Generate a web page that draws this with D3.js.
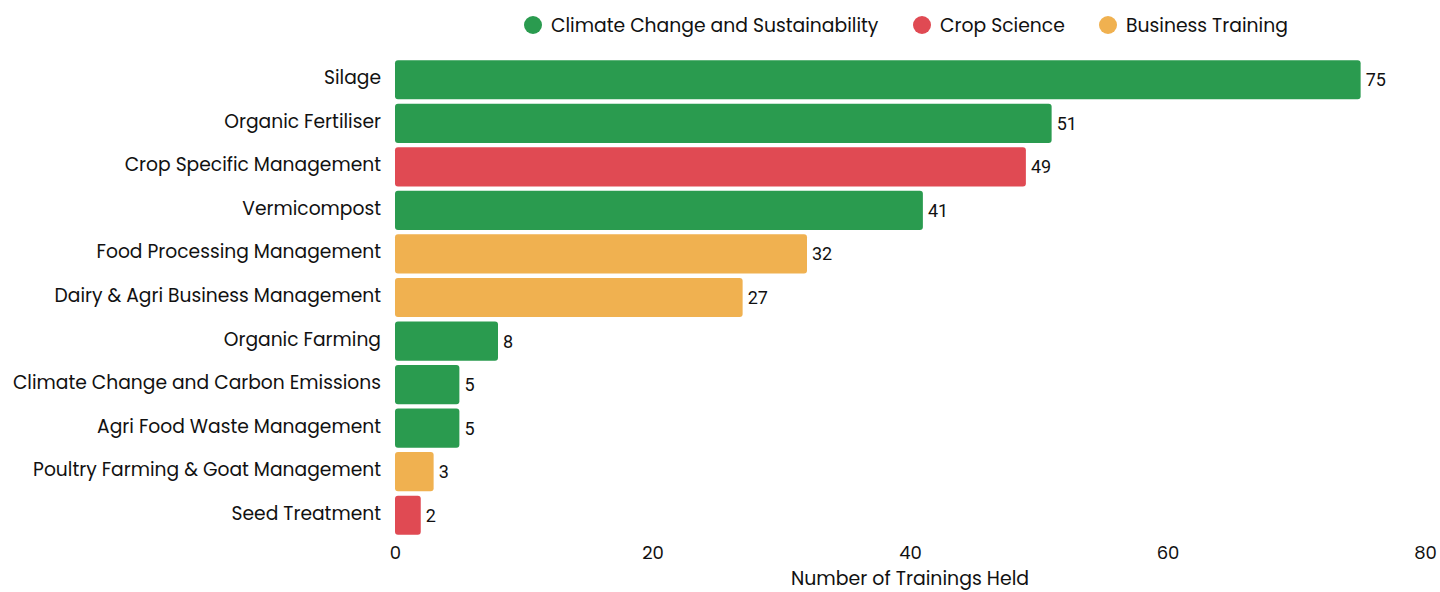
<!DOCTYPE html>
<html><head><meta charset="utf-8">
<script src="https://cdn.jsdelivr.net/npm/d3@7"></script>
<style>body{margin:0;background:#fff}svg{display:block}</style>
</head><body><svg id="c" width="1440" height="592"></svg>
<script>
const categories = ["Silage","Organic Fertiliser","Crop Specific Management","Vermicompost","Food Processing Management","Dairy & Agri Business Management","Organic Farming","Climate Change and Carbon Emissions","Agri Food Waste Management","Poultry Farming & Goat Management","Seed Treatment"];
const values = [75,51,49,41,32,27,8,5,5,3,2];
const groups = ["Climate Change and Sustainability","Climate Change and Sustainability","Crop Science","Climate Change and Sustainability","Business Training","Business Training","Climate Change and Sustainability","Climate Change and Sustainability","Climate Change and Sustainability","Business Training","Crop Science"];
const legendNames = ["Climate Change and Sustainability","Crop Science","Business Training"];
const legendColors = ["#2a9b4f","#e04a53","#f0b150"];
const xTicks = [0,20,40,60,80];

const font = "Poppins, 'Open Sans', sans-serif";
const svg = d3.select("#c");
const x = d3.scaleLinear().domain([0,80]).range([395,1425]);
const y = d3.scaleBand().domain(categories).range([58,537]).paddingInner(0.1).paddingOuter(0.05);
const color = d3.scaleOrdinal().domain(legendNames).range(legendColors);

const data = categories.map((c,i)=>({c, v:values[i], g:groups[i]}));

svg.selectAll("rect.bar").data(data).join("rect").attr("class","bar")
  .attr("x",x(0)).attr("y",d=>y(d.c)).attr("width",d=>x(d.v)-x(0)).attr("height",y.bandwidth())
  .attr("rx",3).attr("fill",d=>color(d.g));

svg.selectAll("text.val").data(data).join("text").attr("class","val")
  .attr("x",d=>x(d.v)+5).attr("y",d=>y(d.c)+y.bandwidth()/2).attr("dy","0.36em")
  .attr("font-family","Roboto, sans-serif").attr("font-size",18).attr("fill","#111").text(d=>d.v);

const yAxis = d3.axisLeft(y).tickSize(0).tickPadding(14);
const gy = svg.append("g").attr("transform",`translate(${x(0)},0)`).call(yAxis);
gy.select(".domain").remove();
gy.selectAll("text").attr("font-family",font).attr("font-size",18.7).attr("fill","#111").attr("dy","0.24em");

const xAxis = d3.axisBottom(x).tickValues(xTicks).tickSize(0).tickPadding(9);
const gx = svg.append("g").attr("transform",`translate(0,${537})`).call(xAxis);
gx.select(".domain").remove();
gx.selectAll("text").attr("font-family",font).attr("font-size",18).attr("fill","#111");

svg.append("text").attr("x",910).attr("y",585).attr("text-anchor","middle")
  .attr("font-family",font).attr("font-size",18.9).attr("fill","#111").text("Number of Trainings Held");

const legX = [533,922,1108];
const lg = svg.selectAll("g.leg").data(legendNames).join("g").attr("class","leg")
  .attr("transform",(d,i)=>`translate(${legX[i]},25)`);
lg.append("circle").attr("r",9).attr("fill",d=>color(d));
lg.append("text").attr("x",18).attr("dy","0.35em").attr("font-family",font).attr("font-size",18.75).attr("fill","#111").text(d=>d);
</script></body></html>
